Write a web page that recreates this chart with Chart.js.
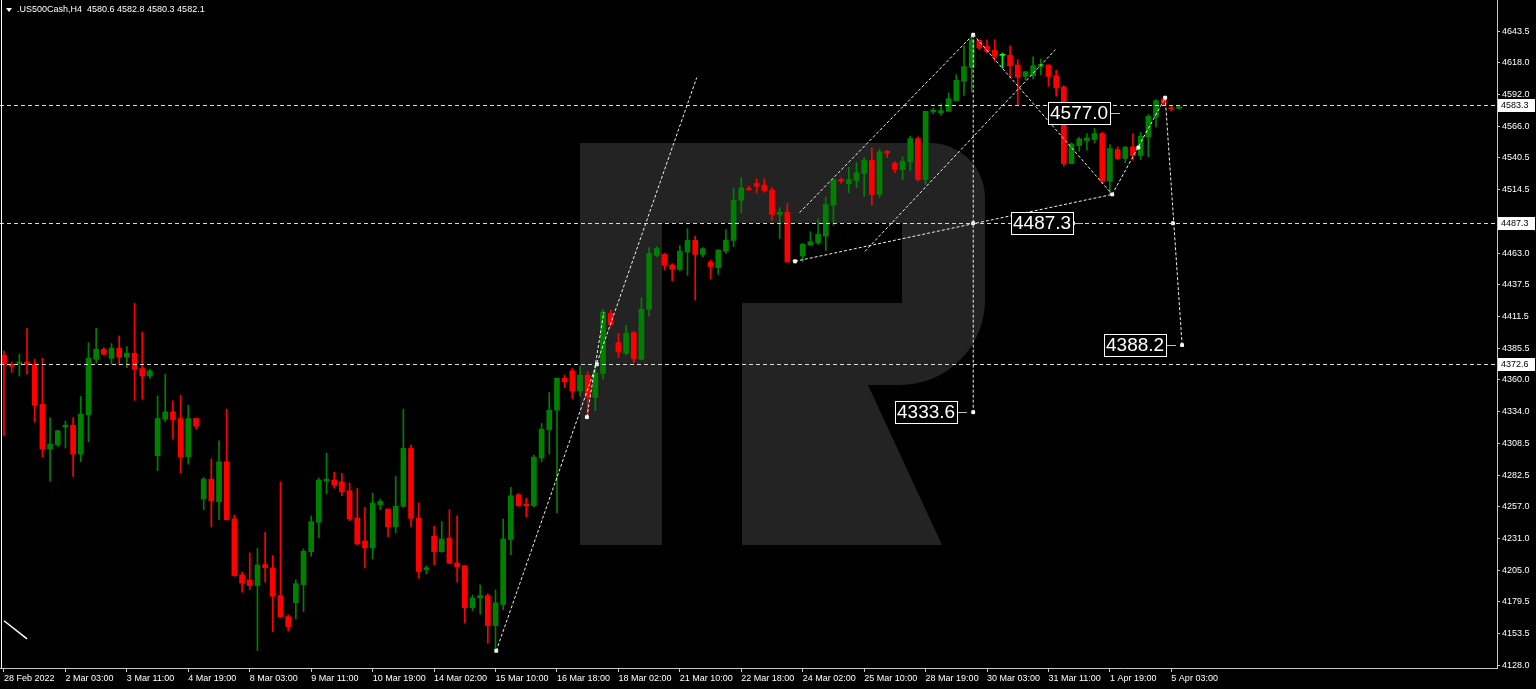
<!DOCTYPE html>
<html>
<head>
<meta charset="utf-8">
<title>.US500Cash,H4</title>
<script src="https://cdn.jsdelivr.net/npm/chart.js@4.4.0/dist/chart.umd.min.js"></script>
<style>
html, body { margin: 0; padding: 0; background: #000; overflow: hidden; }
#wrap { width: 1536px; height: 689px; }
</style>
</head>
<body>
<div id="wrap"><canvas id="chart" width="1536" height="689"></canvas></div>
<script>
var symbol = '.US500Cash,H4';

// H4 candles, oldest first
var opens = [
  4379.9, 4372.6, 4373.2, 4374.5, 4372.6, 4340.1, 4303.6, 4307.1, 4321.5, 4323.1,
  4299.5, 4331.5, 4376.7, 4384.8, 4377.5, 4385.6, 4378.5, 4381.6, 4369.1, 4363.1,
  4298.2, 4328.0, 4333.9, 4328.5, 4297.3, 4328.5, 4263.0, 4279.2, 4260.8, 4293.3,
  4246.8, 4201.3, 4197.2, 4192.6, 4209.7, 4207.0, 4184.5, 4167.4, 4178.8, 4193.4,
  4220.2, 4244.1, 4277.6, 4278.4, 4277.0, 4269.7, 4247.6, 4228.9, 4223.2, 4258.4,
  4254.9, 4240.5, 4257.1, 4304.2, 4247.6, 4205.6, 4232.7, 4220.2, 4231.3, 4211.0,
  4208.8, 4174.7, 4182.6, 4184.5, 4160.1, 4177.2, 4230.0, 4266.5, 4258.9, 4257.6,
  4296.3, 4319.3, 4335.3, 4361.3, 4367.2, 4350.9, 4363.7, 4345.6, 4365.1, 4414.0,
  4390.2, 4381.6, 4398.4, 4376.7, 4417.3, 4461.1, 4461.9, 4453.3, 4449.8, 4463.8,
  4473.3, 4461.9, 4455.7, 4451.1, 4464.6, 4473.3, 4506.0, 4515.5, 4519.6, 4518.2,
  4514.2, 4494.4, 4496.3, 4456.3, 4460.6, 4469.5, 4471.4, 4476.8, 4502.0, 4522.8,
  4519.3, 4522.0, 4527.7, 4538.5, 4510.7, 4545.8, 4536.1, 4531.0, 4537.2, 4556.1,
  4522.8, 4577.8, 4577.2, 4578.3, 4587.0, 4602.7, 4614.0, 4636.0, 4631.1, 4627.8,
  4623.8, 4623.8, 4616.0, 4606.7, 4607.3, 4614.4, 4616.0, 4607.3, 4598.1, 4535.8,
  4550.4, 4554.5, 4555.3, 4560.2, 4521.5, 4547.2, 4539.9, 4549.4, 4542.3, 4557.5,
  4573.8, 4588.4, 4581.3, 4580.6
];
var highs = [
  4383.4, 4374.5, 4380.7, 4401.9, 4376.7, 4377.5, 4329.3, 4319.0, 4326.3, 4329.3,
  4346.4, 4390.2, 4401.9, 4386.2, 4389.4, 4395.6, 4387.0, 4422.2, 4398.8, 4368.6,
  4346.9, 4364.5, 4342.8, 4347.4, 4339.3, 4328.8, 4280.6, 4295.5, 4310.3, 4336.1,
  4250.0, 4203.5, 4219.2, 4223.0, 4236.0, 4217.0, 4277.0, 4168.8, 4197.2, 4222.4,
  4249.2, 4279.8, 4300.4, 4284.7, 4283.9, 4276.0, 4271.9, 4256.3, 4267.9, 4263.0,
  4254.9, 4281.4, 4336.1, 4306.8, 4259.8, 4208.8, 4240.8, 4244.6, 4254.3, 4249.4,
  4208.8, 4185.0, 4193.2, 4185.9, 4189.1, 4246.8, 4272.5, 4267.6, 4263.6, 4298.7,
  4324.5, 4349.6, 4361.3, 4363.7, 4369.1, 4371.2, 4366.4, 4371.2, 4417.3, 4416.7,
  4397.8, 4404.3, 4399.4, 4426.8, 4467.4, 4468.2, 4462.8, 4454.4, 4469.2, 4482.8,
  4476.8, 4467.4, 4457.3, 4466.0, 4482.2, 4516.1, 4524.2, 4517.4, 4523.4, 4523.4,
  4516.1, 4499.9, 4503.4, 4457.9, 4470.9, 4480.4, 4490.9, 4508.5, 4522.8, 4524.2,
  4532.8, 4536.9, 4540.9, 4548.6, 4547.2, 4546.4, 4537.2, 4541.3, 4558.0, 4557.5,
  4578.3, 4581.1, 4584.3, 4593.2, 4608.1, 4631.6, 4640.0, 4636.5, 4636.5, 4636.5,
  4625.7, 4631.6, 4620.3, 4610.8, 4622.5, 4620.8, 4616.0, 4611.6, 4599.2, 4552.6,
  4557.2, 4560.2, 4564.3, 4561.2, 4551.3, 4549.4, 4549.9, 4560.2, 4561.2, 4575.6,
  4587.8, 4590.0, 4582.9, 4582.8
];
var lows = [
  4314.4, 4365.9, 4362.9, 4364.5, 4325.5, 4297.3, 4277.6, 4305.8, 4304.4, 4281.4,
  4293.3, 4309.5, 4373.2, 4380.2, 4372.6, 4372.6, 4369.9, 4343.4, 4344.2, 4361.0,
  4286.0, 4325.8, 4311.7, 4283.9, 4291.4, 4319.8, 4254.3, 4240.5, 4246.2, 4246.0,
  4200.2, 4187.2, 4189.4, 4139.8, 4195.4, 4155.2, 4166.6, 4155.8, 4165.6, 4171.5,
  4216.5, 4231.6, 4267.3, 4271.9, 4265.7, 4245.4, 4225.9, 4207.0, 4214.3, 4254.3,
  4232.4, 4235.4, 4256.3, 4240.8, 4198.6, 4202.1, 4209.4, 4219.7, 4210.2, 4195.4,
  4162.3, 4172.3, 4169.4, 4145.8, 4138.5, 4173.1, 4217.8, 4257.1, 4248.6, 4256.3,
  4293.3, 4299.5, 4251.9, 4353.7, 4344.8, 4346.9, 4329.3, 4334.7, 4360.4, 4403.2,
  4378.1, 4380.2, 4374.0, 4376.1, 4411.8, 4460.1, 4449.2, 4440.3, 4448.4, 4444.9,
  4424.8, 4460.1, 4442.2, 4445.7, 4462.8, 4468.2, 4495.8, 4513.9, 4512.0, 4512.5,
  4489.8, 4474.7, 4455.7, 4454.6, 4456.0, 4469.5, 4470.1, 4465.2, 4485.7, 4519.8,
  4512.0, 4516.1, 4509.3, 4502.0, 4508.0, 4540.9, 4528.3, 4522.8, 4530.1, 4521.5,
  4518.8, 4576.2, 4575.1, 4578.3, 4587.0, 4591.3, 4594.1, 4628.4, 4625.7, 4618.9,
  4613.5, 4605.4, 4583.7, 4604.0, 4604.6, 4608.1, 4598.6, 4590.5, 4533.6, 4535.8,
  4545.8, 4546.6, 4552.6, 4519.6, 4511.5, 4539.1, 4536.4, 4538.5, 4539.1, 4541.3,
  4565.6, 4583.7, 4578.3, 4580.3
];
var closes = [
  4372.6, 4370.8, 4374.5, 4372.6, 4339.3, 4303.6, 4307.7, 4318.5, 4323.1, 4299.5,
  4332.0, 4377.5, 4384.8, 4380.7, 4385.6, 4378.5, 4381.6, 4368.6, 4363.1, 4367.2,
  4328.5, 4333.9, 4327.4, 4297.3, 4328.5, 4322.3, 4279.2, 4261.6, 4293.3, 4246.2,
  4200.7, 4194.8, 4192.6, 4209.4, 4207.2, 4184.0, 4167.4, 4159.3, 4194.2, 4220.5,
  4244.6, 4278.4, 4279.2, 4274.6, 4268.9, 4246.8, 4226.5, 4223.2, 4259.8, 4261.1,
  4240.5, 4257.1, 4304.2, 4247.3, 4204.0, 4207.2, 4220.2, 4230.5, 4211.0, 4208.0,
  4174.7, 4182.6, 4184.5, 4160.1, 4178.6, 4230.5, 4265.7, 4257.6, 4257.6, 4297.1,
  4319.8, 4335.3, 4361.3, 4358.2, 4350.9, 4363.7, 4345.6, 4365.3, 4415.1, 4405.1,
  4382.6, 4397.8, 4377.2, 4417.3, 4462.8, 4466.8, 4453.0, 4449.8, 4464.6, 4473.3,
  4461.9, 4466.6, 4452.0, 4465.4, 4473.6, 4506.0, 4516.1, 4514.5, 4517.4, 4513.9,
  4494.4, 4496.3, 4455.7, 4457.3, 4470.1, 4472.3, 4478.2, 4502.5, 4522.8, 4521.5,
  4522.8, 4528.3, 4538.5, 4510.7, 4545.3, 4544.2, 4531.0, 4537.7, 4556.1, 4522.8,
  4578.3, 4579.4, 4578.9, 4588.6, 4603.5, 4614.6, 4636.5, 4629.8, 4627.0, 4623.0,
  4623.8, 4615.4, 4605.9, 4610.5, 4615.4, 4616.5, 4606.7, 4597.3, 4535.8, 4551.8,
  4555.9, 4556.7, 4560.2, 4521.5, 4548.0, 4539.9, 4549.1, 4542.3, 4558.0, 4574.2,
  4587.0, 4584.6, 4580.2, 4582.1
];

// time axis: one label every 8 bars, starting at bar 0
var xTickLabels = [
  '28 Feb 2022', '2 Mar 03:00', '3 Mar 11:00', '4 Mar 19:00', '8 Mar 03:00',
  '9 Mar 11:00', '10 Mar 19:00', '14 Mar 02:00', '15 Mar 10:00', '16 Mar 18:00',
  '18 Mar 02:00', '21 Mar 10:00', '22 Mar 18:00', '24 Mar 02:00', '25 Mar 10:00',
  '28 Mar 19:00', '30 Mar 03:00', '31 Mar 11:00', '1 Apr 19:00', '5 Apr 03:00'
];
var xTickStep = 8;

var yTickValues = [
  4128.0, 4153.5, 4179.5, 4205.0, 4231.0, 4257.0, 4282.5, 4308.5, 4334.0, 4360.0,
  4385.5, 4411.5, 4437.5, 4463.0, 4489.0, 4514.5, 4540.5, 4566.0, 4592.0, 4618.0, 4643.5
];

// horizontal price levels (dashed lines + axis boxes)
var levelValues = [4583.3, 4487.3, 4372.6];

// boxed target prices and the bar where each box ends
var targetValues = [4577.0, 4487.3, 4388.2, 4333.6];
var targetBars = [144.0, 139.2, 151.3, 124.1];

// analysis lines drawn on the chart: [bar, price] pairs
var trendLines = [
  [[64.1, 4139.6], [90.2, 4605.7]],
  [[75.9, 4329.6], [78.1, 4414.8]],
  [[103.6, 4496.0], [126.2, 4640.6]],
  [[103.0, 4456.3], [144.3, 4510.7]],
  [[112.1, 4464.4], [136.9, 4628.4]],
  [[126.2, 4640.6], [144.3, 4510.7]],
  [[144.3, 4510.7], [151.2, 4589.4]],
  [[151.2, 4589.4], [153.4, 4388.2]],
  [[126.2, 4640.6], [126.2, 4333.6]]
];
var oldLine = [[0.0, 4164.0], [3.0, 4149.3]];
var markers = [
  [64.1, 4139.6], [75.9, 4329.6], [77.2, 4372.6], [126.2, 4640.6], [126.2, 4487.3],
  [126.2, 4333.6], [144.3, 4510.7], [147.7, 4548.8], [151.2, 4589.4], [152.2, 4487.3],
  [153.4, 4388.2], [139.2, 4487.3], [103.0, 4456.3]
];

var UP = 'rgb(0,128,0)', DOWN = 'rgb(255,0,0)', DOJI = 'rgb(0,255,0)';
var colors = opens.map(function (o, i) {
  return closes[i] > o ? UP : (closes[i] < o ? DOWN : DOJI);
});

var FONT = '"Liberation Sans", Arial, sans-serif';

var datasets = [];
trendLines.forEach(function (seg) {
  datasets.push({
    type: 'line',
    data: seg.map(function (p) { return { x: p[0], y: p[1] }; }),
    borderColor: '#f0f0f0', borderWidth: 1, borderDash: [3, 2],
    pointRadius: 0, fill: false, order: 0
  });
});
datasets.push({
  type: 'line',
  data: oldLine.map(function (p) { return { x: p[0], y: p[1] }; }),
  borderColor: '#ffffff', borderWidth: 1.5, pointRadius: 0, fill: false, order: 0
});
datasets.push({
  type: 'line',
  data: markers.map(function (p) { return { x: p[0], y: p[1] }; }),
  showLine: false, pointStyle: 'rect', pointRadius: 2,
  pointBackgroundColor: '#ffffff', pointBorderColor: '#ffffff', order: 0
});
datasets.push({
  type: 'bar',
  data: opens.map(function (o, i) { return { x: i, y: [lows[i], highs[i]] }; }),
  backgroundColor: colors, barThickness: 1, grouped: false, order: 3
});
datasets.push({
  type: 'bar',
  data: opens.map(function (o, i) { return { x: i, y: [o, closes[i]] }; }),
  backgroundColor: colors, barThickness: 5, minBarLength: 1, grouped: false, order: 2
});

function drawWatermark(ctx) {
  ctx.save();
  ctx.fillStyle = '#232323';
  ctx.beginPath();
  ctx.moveTo(580, 143);
  ctx.lineTo(930, 143);
  ctx.arcTo(985, 143, 985, 200, 55);
  ctx.lineTo(985, 300);
  ctx.arcTo(985, 385, 900, 385, 85);
  ctx.lineTo(868, 385);
  ctx.lineTo(942, 545);
  ctx.lineTo(742, 545);
  ctx.lineTo(742, 303);
  ctx.lineTo(902, 303);
  ctx.lineTo(902, 223);
  ctx.lineTo(662, 223);
  ctx.lineTo(662, 545);
  ctx.lineTo(580, 545);
  ctx.closePath();
  ctx.fill();
  ctx.restore();
}

var decor = {
  id: 'decor',
  beforeDatasetsDraw: function (chart) {
    drawWatermark(chart.ctx);
  },
  afterDatasetsDraw: function (chart) {
    var ctx = chart.ctx, a = chart.chartArea, ys = chart.scales.y;
    ctx.save();
    ctx.strokeStyle = '#d8d8d8';
    ctx.lineWidth = 1;
    ctx.setLineDash([4, 3]);
    levelValues.forEach(function (v) {
      var y = Math.round(ys.getPixelForValue(v)) + 0.5;
      ctx.beginPath();
      ctx.moveTo(a.left, y);
      ctx.lineTo(a.right, y);
      ctx.stroke();
    });
    ctx.restore();
  },
  afterDraw: function (chart) {
    var ctx = chart.ctx, a = chart.chartArea, xs = chart.scales.x, ys = chart.scales.y;
    ctx.save();
    // left frame line
    ctx.strokeStyle = '#ffffff';
    ctx.lineWidth = 1;
    ctx.beginPath();
    ctx.moveTo(1.5, 0);
    ctx.lineTo(1.5, a.bottom);
    ctx.stroke();

    // level boxes on the price axis
    ctx.font = '9px ' + FONT;
    ctx.textBaseline = 'middle';
    ctx.textAlign = 'left';
    levelValues.forEach(function (v) {
      var y = Math.round(ys.getPixelForValue(v));
      ctx.fillStyle = '#ffffff';
      ctx.fillRect(a.right + 1, y - 6, 37, 13);
      ctx.fillStyle = '#000000';
      ctx.fillText(v.toFixed(1), a.right + 4, y + 1);
    });

    // boxed target prices
    ctx.font = '19px ' + FONT;
    targetValues.forEach(function (v, k) {
      var t = v.toFixed(1);
      var x = Math.round(xs.getPixelForValue(targetBars[k]));
      var y = Math.round(ys.getPixelForValue(v));
      var w = Math.round(ctx.measureText(t).width) + 4;
      ctx.fillStyle = '#000000';
      ctx.fillRect(x - w, y - 11, w, 23);
      ctx.strokeStyle = '#ffffff';
      ctx.lineWidth = 1;
      ctx.strokeRect(x - w + 0.5, y - 11 + 0.5, w, 22);
      ctx.fillStyle = '#ffffff';
      ctx.fillText(t, x - w + 2, y + 1);
      ctx.strokeStyle = '#bdbdbd';
      ctx.beginPath();
      ctx.moveTo(x + 1, y + 0.5);
      ctx.lineTo(x + 10, y + 0.5);
      ctx.stroke();
    });

    // header: symbol and OHLC of the last bar
    var n = opens.length - 1;
    ctx.fillStyle = '#ffffff';
    ctx.beginPath();
    ctx.moveTo(6, 8);
    ctx.lineTo(12, 8);
    ctx.lineTo(9, 12);
    ctx.closePath();
    ctx.fill();
    ctx.font = '9px ' + FONT;
    ctx.fillText(symbol + '  ' + [opens[n], highs[n], lows[n], closes[n]].map(function (v) {
      return v.toFixed(1);
    }).join(' '), 17, 10);
    ctx.restore();
  }
};

Chart.defaults.font.family = FONT;

new Chart(document.getElementById('chart'), {
  type: 'bar',
  data: { datasets: datasets },
  options: {
    responsive: false,
    animation: false,
    devicePixelRatio: 1,
    layout: { padding: 0, autoPadding: false },
    plugins: { legend: { display: false }, tooltip: { enabled: false } },
    scales: {
      x: {
        type: 'linear',
        position: 'bottom',
        min: -0.52,
        max: 194.4,
        offset: false,
        afterBuildTicks: function (s) {
          s.ticks = xTickLabels.map(function (l, i) { return { value: i * xTickStep }; });
        },
        afterFit: function (s) {
          s.height = 21;
          s.paddingLeft = 0;
          s.paddingRight = 0;
        },
        ticks: {
          color: '#ffffff',
          font: { size: 9 },
          align: 'start',
          maxRotation: 0,
          autoSkip: false,
          padding: 1,
          callback: function (v, i) { return xTickLabels[i]; }
        },
        grid: { offset: false, drawOnChartArea: false, drawTicks: true, tickLength: 4, color: '#c8c8c8' },
        border: { display: true, color: '#c8c8c8' }
      },
      y: {
        position: 'right',
        min: 4125.6,
        max: 4668.8,
        afterBuildTicks: function (s) {
          s.ticks = yTickValues.map(function (v) { return { value: v }; });
        },
        afterFit: function (s) {
          s.width = 39;
          s.paddingTop = 0;
          s.paddingBottom = 0;
        },
        ticks: {
          color: '#ffffff',
          font: { size: 9 },
          padding: 2,
          callback: function (v) { return Number(v).toFixed(1); }
        },
        grid: { drawOnChartArea: false, drawTicks: true, tickLength: 3, color: '#c8c8c8' },
        border: { display: true, color: '#c8c8c8' }
      }
    }
  },
  plugins: [decor]
});
</script>
</body>
</html>
